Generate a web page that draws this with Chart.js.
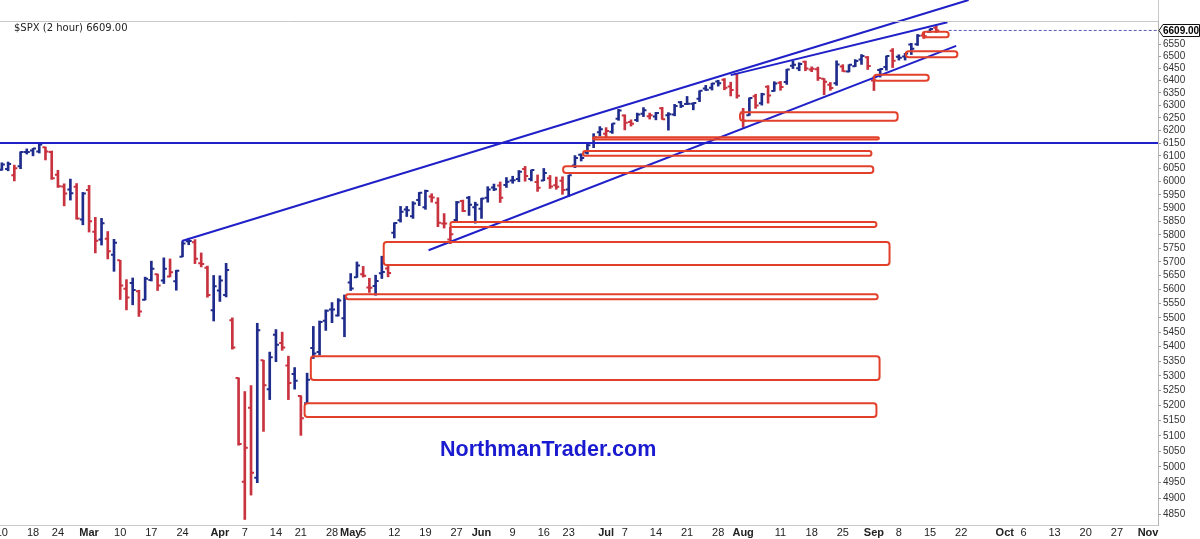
<!DOCTYPE html>
<html>
<head>
<meta charset="utf-8">
<title>$SPX (2 hour)</title>
<script src="https://cdn.jsdelivr.net/npm/chart.js@4.4.1/dist/chart.umd.min.js"></script>
<style>
    html, body { margin: 0; padding: 0; background: #fff; }
    #wrap { position: relative; width: 1200px; height: 539px; overflow: hidden; }
    #header { position: absolute; left: 14px; top: 22px; font: 10px "DejaVu Sans", sans-serif; color: #222; }
    #mark { position: absolute; left: 440px; top: 437px; font: bold 21.5px "Liberation Sans", Arial, sans-serif; color: #1a1ad0; }
</style>
</head>
<body>
<div id="wrap">
    <canvas id="spxChart" width="1200" height="539"></canvas>
    <div id="header">$SPX (2 hour) 6609.00</div>
    <div id="mark">NorthmanTrader.com</div>
</div>
<script>
// Daily bars, one per trading day from Feb 10 (index 0) to Sep 16 (index 150)
const open = [
    6046,6049,6025,6060,6115,6121,6117,6134,6115,6027,5982,5970,5981,5857,
    5968,5811,5782,5785,5726,5706,5603,5624,5594,5564,5635,5655,5633,5647,5630,5719,5776,5772,5695,5679,5527,
    5597,5581,5492,5293,4953,5193,4966,5353,5255,5441,5412,5335,5306,5232,5208,5395,5381,5490,5529,5508,5499,
    5626,5645,5655,5608,5613,5659,5676,5807,5854,5894,5869,5930,5903,5944,5920,5842,5782,5855,5926,5939,5903,
    5897,5939,5978,5985,5987,6005,6010,6049,6010,5999,6005,6013,5986,6004,5970,6062,6104,6112,6150,6193,
    6187,6195,6246,6259,6233,6241,6266,6256,6255,6288,6260,6263,6313,6305,6307,6327,6368,6371,6397,6404,6376,6427,
    6271,6260,6337,6309,6375,6358,6392,6395,6462,6451,6478,6446,6447,6408,6384,6390,6458,6438,6459,6487,6497,
    6401,6444,6456,6524,6499,6500,6550,6551,6588,6603,6620
];
const high = [
    6073,6076,6064,6116,6127,6129,6147,6134,6119,6044,5992,6010,5993,5959,
    5986,5865,5861,5812,5783,5706,5636,5642,5598,5645,5703,5656,5715,5711,5670,5775,5787,5782,5733,5685,5651,
    5650,5695,5500,5293,5247,5267,5481,5353,5381,5459,5450,5367,5328,5233,5309,5470,5489,5528,5554,5568,5581,
    5658,5700,5684,5641,5652,5721,5691,5845,5906,5906,5924,5959,5968,5954,5939,5879,5829,5925,5930,5944,5922,
    5937,5981,5991,5999,6016,6021,6043,6059,6045,6026,6051,6024,6018,6019,6025,6101,6108,6146,6187,6215,
    6211,6227,6284,6262,6242,6269,6291,6269,6272,6292,6271,6304,6316,6336,6310,6359,6381,6390,6402,6409,6394,6427,
    6288,6330,6345,6349,6380,6396,6397,6447,6481,6474,6481,6457,6456,6409,6393,6482,6466,6466,6487,6508,6500,
    6418,6449,6502,6533,6507,6513,6555,6592,6600,6616,6627
];
const low = [
    6044,6042,6003,6050,6107,6100,6111,6084,6009,5978,5908,5930,5858,5837,
    5810,5733,5762,5711,5666,5565,5528,5546,5505,5563,5631,5597,5622,5646,5598,5719,5763,5694,5682,5573,5489,
    5558,5574,5391,5070,4835,4911,4950,5115,5220,5348,5387,5220,5255,5102,5208,5359,5371,5456,5483,5506,5434,
    5597,5644,5645,5590,5580,5640,5646,5788,5847,5868,5861,5909,5895,5922,5830,5825,5767,5852,5886,5872,5843,
    5861,5922,5966,5921,5978,5994,6000,6002,6003,5963,6004,5974,5971,5952,5943,6054,6080,6107,6132,6178,
    6174,6188,6240,6202,6217,6235,6255,6245,6242,6244,6201,6258,6291,6303,6282,6315,6360,6362,6378,6363,6338,6329,
    6212,6260,6288,6301,6309,6357,6361,6385,6450,6441,6441,6437,6401,6343,6361,6381,6438,6436,6458,6467,6446,
    6360,6415,6443,6454,6485,6485,6508,6546,6575,6601,6600
];
const close = [
    6066,6068,6052,6115,6115,6129,6144,6117,6013,5983,5955,5956,5861,5955,
    5850,5778,5843,5739,5770,5615,5572,5599,5522,5639,5675,5615,5675,5663,5668,5768,5777,5712,5693,5581,5612,
    5633,5671,5397,5074,5062,4982,5457,5268,5363,5406,5397,5276,5283,5158,5287,5376,5485,5525,5529,5561,5569,
    5604,5687,5650,5607,5631,5664,5660,5844,5886,5892,5917,5958,5964,5940,5845,5842,5802,5922,5889,5912,5912,
    5936,5970,5971,5939,6000,6006,6038,6022,6045,5977,6033,5982,5981,5968,6025,6092,6092,6141,6173,6205,
    6198,6227,6279,6230,6226,6263,6280,6260,6269,6244,6264,6297,6297,6306,6310,6359,6363,6389,6390,6371,6362,6339,
    6238,6330,6299,6345,6340,6389,6374,6446,6466,6469,6450,6449,6411,6396,6370,6467,6439,6466,6481,6502,6460,
    6416,6448,6502,6482,6495,6512,6532,6587,6584,6615,6609
];
const lastPrice = 6609;

// x axis: trading-day index of each date label
const xTickPos = [0,5,9,14,19,24,29,35,39,44,48,53,56,58,63,68,73,77,82,87,91,97,100,105,110,115,119,125,130,135,140,144,149,154,161,164,169,174,179,184];
const xTickText = ['10','18','24','Mar','10','17','24','Apr','7','14','21','28','May','5','12','19','27','Jun','9','16','23','Jul','7','14','21','28','Aug','11','18','25','Sep','8','15','22','Oct','6','13','20','27','Nov'];

const yTicks = [4850,4900,4950,5000,5050,5100,5150,5200,5250,5300,5350,5400,5450,5500,5550,5600,5650,5700,
    5750,5800,5850,5900,5950,6000,6050,6100,6150,6200,6250,6300,6350,6400,6450,6500,6550];

// trend lines (day index / price at each end)
const lineX1 = [28.9, 117, 68.5];
const lineY1 = [5777, 6423, 5743];
const lineX2 = [155.2, 151.8, 153.2];
const lineY2 = [6739, 6644, 6544];
const levelLine = 6150;

// gap boxes
const zoneStart = [147.8, 145.1, 140.0, 118.5, 94.9, 93.3, 90.1, 72.0, 61.3, 55.2, 49.6, 48.6];
const zoneEnd   = [152.0, 153.4, 148.8, 143.8, 140.8, 139.6, 139.9, 140.4, 142.5, 140.6, 140.9, 140.4];
const zoneLow   = [6580, 6497, 6400, 6238, 6164, 6100, 6033, 5829, 5689, 5566, 5286, 5162];
const zoneHigh  = [6604, 6522, 6424, 6272, 6173, 6119, 6060, 5847, 5773, 5584, 5367, 5208];

const UP = '#1f2c8c';
const DOWN = '#c8333f';
const TREND = '#2020c8';
const ZONE = '#e2402a';

const barColors = close.map((c, i) => {
    const prev = i === 0 ? open[0] : close[i - 1];
    return c >= prev ? UP : DOWN;
});
const ranges = low.map((l, i) => ({ x: i, y: [l, high[i]] }));

const trendSets = lineX1.map((x1, i) => ({
    type: 'line',
    data: [{ x: x1, y: lineY1[i] }, { x: lineX2[i], y: lineY2[i] }],
    borderColor: TREND,
    borderWidth: 2,
    pointRadius: 0,
    clip: false,
    order: 0
}));

// open / close ticks on each bar
const ohlcTicks = {
    id: 'ohlcTicks',
    afterDatasetDraw(chart, args) {
        if (args.index !== 0) return;
        const xs = chart.scales.x, ys = chart.scales.y, c = chart.ctx;
        c.save();
        c.lineWidth = 2;
        open.forEach((o, i) => {
            const x = xs.getPixelForValue(i);
            const yo = ys.getPixelForValue(o);
            const yc = ys.getPixelForValue(close[i]);
            c.strokeStyle = barColors[i];
            c.beginPath();
            c.moveTo(x - 3, yo); c.lineTo(x, yo);
            c.moveTo(x, yc); c.lineTo(x + 3, yc);
            c.stroke();
        });
        c.restore();
    }
};

// gap boxes drawn on top
const zones = {
    id: 'zones',
    afterDatasetsDraw(chart) {
        const xs = chart.scales.x, ys = chart.scales.y, c = chart.ctx;
        c.save();
        c.strokeStyle = ZONE;
        c.lineWidth = 2;
        zoneStart.forEach((s, i) => {
            const x1 = xs.getPixelForValue(s), x2 = xs.getPixelForValue(zoneEnd[i]);
            const y1 = ys.getPixelForValue(zoneHigh[i]), y2 = ys.getPixelForValue(zoneLow[i]);
            const r = Math.min(3, (y2 - y1) / 2);
            c.beginPath();
            c.moveTo(x1 + r, y1);
            c.arcTo(x2, y1, x2, y2, r);
            c.arcTo(x2, y2, x1, y2, r);
            c.arcTo(x1, y2, x1, y1, r);
            c.arcTo(x1, y1, x2, y1, r);
            c.closePath();
            c.stroke();
        });
        c.restore();
    }
};

// frame lines and last price box
const frame = {
    id: 'frame',
    afterDraw(chart) {
        const a = chart.chartArea, c = chart.ctx, ys = chart.scales.y;
        c.save();
        c.strokeStyle = '#c8c8c8';
        c.lineWidth = 1;
        c.beginPath();
        c.moveTo(0, a.top + 0.5); c.lineTo(a.right, a.top + 0.5);
        c.moveTo(a.right + 0.5, 0); c.lineTo(a.right + 0.5, a.top);
        c.stroke();

        const y = Math.round(ys.getPixelForValue(lastPrice)) + 0.5;
        const x0 = a.right + 1;
        c.fillStyle = '#fff';
        c.strokeStyle = '#111';
        c.beginPath();
        c.moveTo(x0, y);
        c.lineTo(x0 + 4, y - 6);
        c.lineTo(1199.5, y - 6);
        c.lineTo(1199.5, y + 6);
        c.lineTo(x0 + 4, y + 6);
        c.closePath();
        c.fill();
        c.stroke();
        c.fillStyle = '#000';
        c.font = 'bold 10px "Liberation Sans", Arial, sans-serif';
        c.textBaseline = 'middle';
        c.fillText(lastPrice.toFixed(2), x0 + 4, y + 0.5);
        c.restore();
    }
};

new Chart(document.getElementById('spxChart'), {
    data: {
        datasets: [
            {
                type: 'bar',
                data: ranges,
                backgroundColor: barColors,
                barThickness: 2,
                order: 1
            },
            ...trendSets,
            {
                type: 'line',
                data: [{ x: -0.3, y: levelLine }, { x: 185.6, y: levelLine }],
                borderColor: TREND,
                borderWidth: 2,
                pointRadius: 0,
                order: 0
            },
            {
                type: 'line',
                data: [{ x: 152, y: lastPrice }, { x: 185.6, y: lastPrice }],
                borderColor: '#5a5ab4',
                borderWidth: 1,
                borderDash: [3, 2],
                pointRadius: 0,
                order: 0
            }
        ]
    },
    options: {
        responsive: false,
        animation: false,
        layout: { padding: { top: 21, left: 0, right: 0, bottom: 0 } },
        plugins: { legend: { display: false }, tooltip: { enabled: false } },
        scales: {
            x: {
                type: 'linear',
                min: -0.3,
                max: 185.6,
                offset: false,
                grid: { display: false, drawTicks: false, offset: false },
                border: { color: '#c8c8c8' },
                afterBuildTicks: (scale) => { scale.ticks = xTickPos.map(v => ({ value: v })); },
                afterFit: (scale) => { scale.height = 14; scale.paddingLeft = 0; scale.paddingRight = 0; },
                ticks: {
                    autoSkip: false,
                    maxRotation: 0,
                    padding: 1,
                    color: '#222',
                    font: (c) => ({
                        family: '"Liberation Sans", Arial, sans-serif',
                        size: 11,
                        weight: isNaN(xTickText[c.index]) ? 'bold' : 'normal'
                    }),
                    callback: (value, index) => xTickText[index]
                }
            },
            y: {
                type: 'logarithmic',
                position: 'right',
                min: 4818,
                max: 6649,
                grid: { drawOnChartArea: false, drawTicks: true, tickLength: 3, color: '#999' },
                border: { color: '#b4b4b4' },
                afterBuildTicks: (scale) => { scale.ticks = yTicks.map(v => ({ value: v })); },
                afterFit: (scale) => { scale.width = 42; scale.paddingTop = 0; scale.paddingBottom = 0; },
                ticks: {
                    autoSkip: false,
                    padding: 2,
                    color: '#333',
                    font: { family: '"Liberation Sans", Arial, sans-serif', size: 10 },
                    callback: (value) => String(value)
                }
            }
        }
    },
    plugins: [ohlcTicks, zones, frame]
});
</script>
</body>
</html>
